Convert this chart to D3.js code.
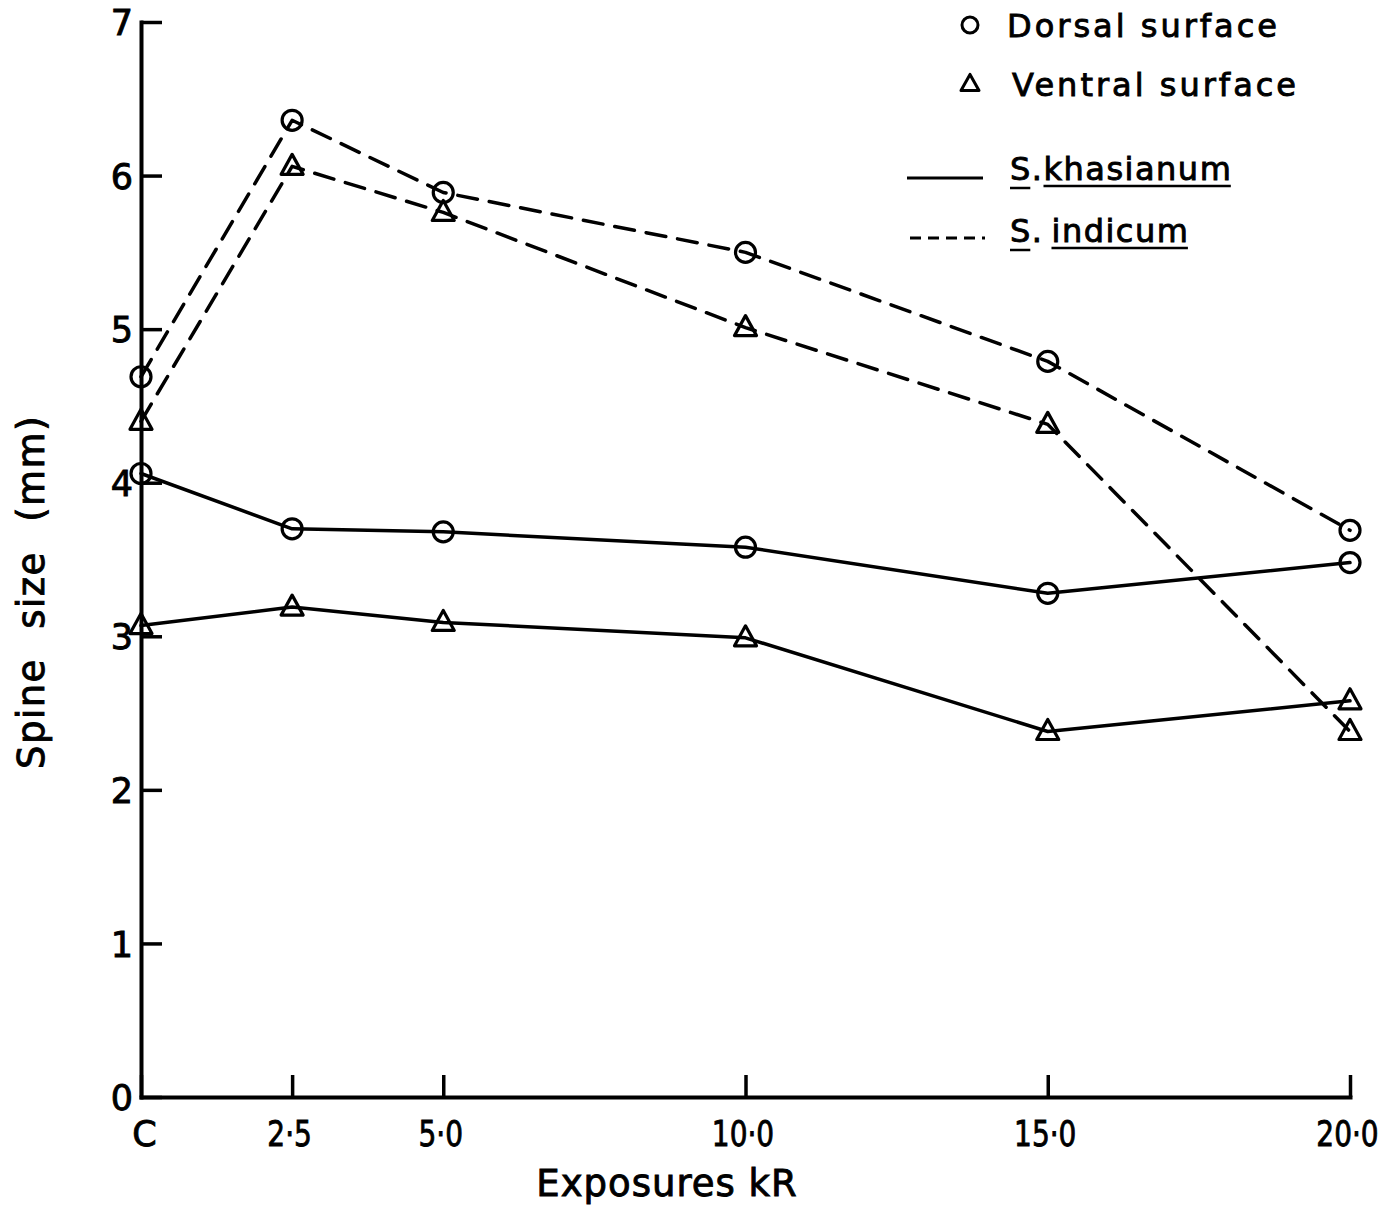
<!DOCTYPE html>
<html>
<head>
<meta charset="utf-8">
<script src="https://cdn.jsdelivr.net/npm/d3@7"></script>
<style>
  html, body { margin: 0; padding: 0; background: #fff; }
  svg { display: block; }
  text { font-family: "DejaVu Sans", sans-serif; fill: #000; stroke: #000; stroke-width: 0.9px; }
</style>
</head>
<body>
<svg id="chart" width="1386" height="1209"></svg>
<script>
// Exposure levels (kR); "C" is the unirradiated control
const exposures = [0, 2.5, 5, 10, 15, 20];
const exposureLabels = ["C", "2·5", "5·0", "10·0", "15·0", "20·0"];
const yTicks = [0, 1, 2, 3, 4, 5, 6, 7];

// Spine size (mm)
const khasianumDorsal  = [4.06, 3.70, 3.68, 3.58, 3.28, 3.48];
const khasianumVentral = [3.07, 3.19, 3.09, 2.99, 2.38, 2.58];
const indicumDorsal    = [4.69, 6.36, 5.89, 5.50, 4.79, 3.69];
const indicumVentral   = [4.40, 6.06, 5.76, 5.01, 4.38, 2.38];

const series = [
  { values: indicumDorsal,    dashed: true,  marker: "circle" },
  { values: indicumVentral,   dashed: true,  marker: "triangle" },
  { values: khasianumDorsal,  dashed: false, marker: "circle" },
  { values: khasianumVentral, dashed: false, marker: "triangle" }
];

const svg = d3.select("#chart");

const x = d3.scaleLinear().domain([0, 20]).range([141, 1350]);
const y = d3.scaleLinear().domain([0, 7]).range([1097, 22]);

const INK = "#000";

// Axes: ticks point into the plot area
const xAxis = d3.axisBottom(x)
  .tickValues(exposures)
  .tickFormat((d, i) => exposureLabels[i])
  .tickSizeInner(-22)
  .tickSizeOuter(0)
  .tickPadding(24);

const yAxis = d3.axisLeft(y)
  .tickValues(yTicks)
  .tickFormat(d3.format("d"))
  .tickSizeInner(-21)
  .tickSizeOuter(0)
  .tickPadding(8);

const gx = svg.append("g").attr("transform", `translate(0,${y(0)})`).call(xAxis);
const gy = svg.append("g").attr("transform", `translate(${x(0)},0)`).call(yAxis);

[gx, gy].forEach(g => {
  g.select(".domain").attr("stroke", INK).attr("stroke-width", 4).attr("stroke-linecap", "square");
  g.selectAll(".tick line").attr("stroke", INK).attr("stroke-width", 3.5);
  g.selectAll(".tick text")
    .attr("fill", INK)
    .style("font-family", "'DejaVu Sans', sans-serif")
    .style("font-size", "35px");
});
gy.selectAll(".tick text").attr("dy", "0.36em");
// narrow lettering for the numeric exposure labels
gx.selectAll(".tick text")
  .attr("transform", (d, i) => i === 0 ? "translate(3,0)" : "translate(-3,0) scale(0.8,1)");

// Axis titles
svg.append("text")
  .attr("x", 667).attr("y", 1196)
  .attr("text-anchor", "middle")
  .style("font-size", "37px")
  .attr("letter-spacing", "1")
  .text("Exposures kR");

svg.append("text")
  .attr("transform", "translate(44,592) rotate(-90)")
  .attr("text-anchor", "middle")
  .style("font-size", "37px")
  .attr("letter-spacing", "1.5")
  .attr("word-spacing", "16")
  .text("Spine size (mm)");

// Lines
const line = d3.line()
  .x((d, i) => x(exposures[i]))
  .y(d => y(d));

series.forEach(s => {
  svg.append("path")
    .datum(s.values)
    .attr("d", line)
    .attr("fill", "none")
    .attr("stroke", INK)
    .attr("stroke-width", 3.5)
    .attr("stroke-linejoin", "round")
    .attr("stroke-linecap", "round")
    .attr("stroke-dasharray", s.dashed ? "20,12" : null);
});

// Markers
const triPath = (cx, cy, w, h) =>
  `M${cx},${cy - h * 0.6}L${cx + w / 2},${cy + h * 0.4}L${cx - w / 2},${cy + h * 0.4}Z`;

series.forEach(s => {
  const g = svg.append("g");
  s.values.forEach((v, i) => {
    const cx = x(exposures[i]), cy = y(v);
    if (s.marker === "circle") {
      g.append("circle")
        .attr("cx", cx).attr("cy", cy).attr("r", 10)
        .attr("fill", "none").attr("stroke", INK).attr("stroke-width", 3.2);
    } else {
      g.append("path")
        .attr("d", triPath(cx, cy, 22, 20))
        .attr("fill", "none").attr("stroke", INK).attr("stroke-width", 3.2)
        .attr("stroke-linejoin", "round");
    }
  });
});

// Legend
const legend = svg.append("g");
legend.append("circle")
  .attr("cx", 970).attr("cy", 25).attr("r", 8)
  .attr("fill", "none").attr("stroke", INK).attr("stroke-width", 3);
legend.append("text")
  .attr("x", 1007).attr("y", 37)
  .style("font-size", "32px").attr("letter-spacing", "3")
  .text("Dorsal surface");

legend.append("path")
  .attr("d", triPath(970, 84, 18, 16))
  .attr("fill", "none").attr("stroke", INK).attr("stroke-width", 3)
  .attr("stroke-linejoin", "round");
legend.append("text")
  .attr("x", 1012).attr("y", 96)
  .style("font-size", "32px").attr("letter-spacing", "3")
  .text("Ventral surface");

legend.append("line")
  .attr("x1", 907).attr("x2", 983).attr("y1", 178).attr("y2", 178)
  .attr("stroke", INK).attr("stroke-width", 3);
legend.append("line")
  .attr("x1", 910).attr("x2", 985).attr("y1", 238).attr("y2", 238)
  .attr("stroke", INK).attr("stroke-width", 3)
  .attr("stroke-dasharray", "11,7");

// Species names, genus initial and epithet underlined separately
function species(xPos, yPos, epithet, gap) {
  const t = legend.append("text")
    .attr("x", xPos).attr("y", yPos)
    .style("font-size", "32px").attr("letter-spacing", "1.5");
  t.append("tspan").text("S.");
  t.append("tspan").attr("dx", gap).text(epithet);
  const node = t.node();
  const s0 = node.getExtentOfChar(0);
  const e0 = node.getExtentOfChar(2);
  const e1 = node.getExtentOfChar(node.getNumberOfChars() - 1);
  legend.append("line")
    .attr("x1", s0.x).attr("x2", s0.x + s0.width - 1.5)
    .attr("y1", yPos + 8).attr("y2", yPos + 8)
    .attr("stroke", INK).attr("stroke-width", 2.5);
  legend.append("line")
    .attr("x1", e0.x).attr("x2", e1.x + e1.width - 1.5)
    .attr("y1", yPos + 6).attr("y2", yPos + 6)
    .attr("stroke", INK).attr("stroke-width", 2.5);
}
species(1010, 180, "khasianum", 0);
species(1010, 242, "indicum", 8);
</script>
</body>
</html>
